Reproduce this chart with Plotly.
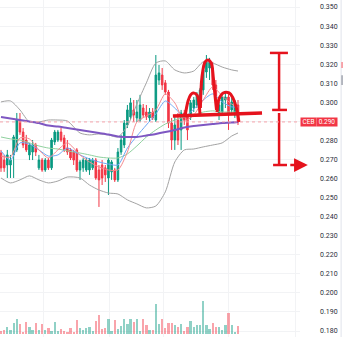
import plotly.graph_objects as go

# ---------------- data ----------------
bars = list(range(76))
opens = [0.2734,0.2697,0.2671,0.2671,0.2724,0.2750,0.2907,0.2844,0.2802,0.2724,
         0.2739,0.2776,0.2656,0.2697,0.2645,0.2697,0.2656,0.2792,0.2802,0.2844,
         0.2813,0.2760,0.2750,0.2739,0.2750,0.2645,0.2656,0.2645,0.2645,0.2656,
         0.2697,0.2645,0.2671,0.2656,0.2603,0.2635,0.2645,0.2593,0.2739,0.2776,
         0.2881,0.2923,0.2960,0.2918,0.2907,0.2970,0.2949,0.2918,0.2949,0.2907,
         0.3117,0.3143,0.3102,0.3054,0.2891,0.2802,0.2907,0.2855,0.2944,0.2923,
         0.2923,0.2970,0.2986,0.3012,0.3065,0.3159,0.3180,0.3180,0.3091,0.2933,
         0.2949,0.3012,0.3028,0.2960,0.2933,0.2986]
highs = [0.2750,0.2724,0.2750,0.2724,0.2829,0.2944,0.2944,0.2865,0.2829,0.2787,
         0.2802,0.2787,0.2724,0.2708,0.2708,0.2708,0.2813,0.2855,0.2855,0.2865,
         0.2829,0.2802,0.2760,0.2750,0.2760,0.2697,0.2708,0.2708,0.2708,0.2708,
         0.2708,0.2671,0.2697,0.2671,0.2708,0.2697,0.2656,0.2760,0.2829,0.2907,
         0.2986,0.3023,0.3012,0.3012,0.3039,0.2991,0.2986,0.2970,0.2970,0.3248,
         0.3196,0.3180,0.3117,0.3065,0.2918,0.2933,0.2944,0.2960,0.2960,0.2933,
         0.3012,0.3028,0.3054,0.3075,0.3196,0.3248,0.3233,0.3212,0.3117,0.3002,
         0.3039,0.3049,0.3049,0.3023,0.3012,0.3012]
lows = [0.2635,0.2635,0.2603,0.2603,0.2603,0.2739,0.2829,0.2760,0.2739,0.2697,
        0.2697,0.2718,0.2645,0.2635,0.2635,0.2645,0.2645,0.2776,0.2792,0.2792,
        0.2739,0.2724,0.2697,0.2671,0.2635,0.2593,0.2635,0.2635,0.2619,0.2645,
        0.2593,0.2451,0.2566,0.2582,0.2514,0.2593,0.2582,0.2582,0.2724,0.2760,
        0.2865,0.2907,0.2897,0.2897,0.2897,0.2918,0.2907,0.2897,0.2907,0.2897,
        0.3091,0.3065,0.3039,0.2865,0.2750,0.2750,0.2776,0.2750,0.2881,0.2802,
        0.2907,0.2949,0.2970,0.2986,0.3039,0.3128,0.3117,0.3065,0.2986,0.2907,
        0.2933,0.2970,0.2855,0.2933,0.2918,0.2881]
closes = [0.2656,0.2656,0.2724,0.2697,0.2818,0.2907,0.2844,0.2776,0.2750,0.2776,
          0.2776,0.2739,0.2697,0.2645,0.2697,0.2656,0.2802,0.2844,0.2844,0.2802,
          0.2750,0.2739,0.2708,0.2697,0.2645,0.2687,0.2697,0.2697,0.2697,0.2697,
          0.2603,0.2593,0.2603,0.2619,0.2697,0.2687,0.2593,0.2739,0.2802,0.2891,
          0.2960,0.2997,0.2933,0.2949,0.2986,0.2933,0.2923,0.2949,0.2918,0.3143,
          0.3154,0.3091,0.3054,0.2891,0.2802,0.2881,0.2802,0.2944,0.2907,0.2855,
          0.2997,0.3012,0.3039,0.3065,0.3170,0.3212,0.3212,0.3091,0.3012,0.2986,
          0.3028,0.3028,0.2944,0.3002,0.3002,0.2897]
volumes_k = [300,400,730,400,1070,1470,1000,200,1200,700,
             400,1100,400,1000,400,600,270,1170,330,530,
             270,230,600,200,1400,600,400,630,670,270,
             1330,1870,470,600,1500,330,1400,470,800,1470,
             1000,1530,1200,1470,330,1470,930,400,400,3000,
             1000,1470,600,1100,1070,930,730,1000,330,670,
             1270,670,930,930,3270,870,470,1070,670,730,
             400,870,2130,930,200,800]

# indicator lines sampled at these bars
knot_bars = [0,3,6,9,12,15,18,21,25,28,31,34,37,40,43,46,49,52,55,58,61,64,67,70,73,75]
bb_upper = [0.3002,0.3007,0.2960,0.2897,0.2897,0.2907,0.2907,0.2902,0.2839,0.2829,
            0.2834,0.2829,0.2818,0.2876,0.2991,0.3102,0.3206,0.3217,0.3170,0.3154,
            0.3164,0.3212,0.3206,0.3185,0.3170,0.3164]
bb_lower = [0.2603,0.2577,0.2593,0.2614,0.2593,0.2577,0.2587,0.2608,0.2603,0.2566,
            0.2540,0.2524,0.2519,0.2488,0.2467,0.2446,0.2456,0.2530,0.2687,0.2750,
            0.2755,0.2766,0.2776,0.2787,0.2823,0.2839]
ma_purple = [0.2923,0.2915,0.2907,0.2899,0.2891,0.2878,0.2873,0.2865,0.2855,0.2847,
             0.2839,0.2831,0.2821,0.2818,0.2818,0.2826,0.2834,0.2844,0.2855,0.2868,
             0.2876,0.2881,0.2886,0.2891,0.2894,0.2897]
ma_green = [0.2818,0.2808,0.2802,0.2787,0.2771,0.2760,0.2755,0.2745,0.2734,0.2724,
            0.2713,0.2708,0.2708,0.2729,0.2771,0.2818,0.2855,0.2886,0.2907,0.2923,
            0.2933,0.2949,0.2955,0.2949,0.2949,0.2949]
ma_blue = [0.2745,0.2697,0.2787,0.2781,0.2750,0.2718,0.2724,0.2760,0.2724,0.2703,
           0.2687,0.2676,0.2671,0.2760,0.2823,0.2881,0.2939,0.3007,0.2970,0.2923,
           0.2965,0.3012,0.3044,0.3002,0.2976,0.2976]
ma_red = [0.2718,0.2713,0.2813,0.2808,0.2750,0.2708,0.2750,0.2787,0.2724,0.2687,
          0.2661,0.2645,0.2645,0.2739,0.2897,0.2928,0.2960,0.3044,0.2997,0.2902,
          0.2933,0.3012,0.3081,0.3033,0.2991,0.2970]

price_ticks = [0.18,0.19,0.20,0.21,0.22,0.23,0.24,0.25,0.26,0.27,0.28,0.29,
               0.30,0.31,0.32,0.33,0.34,0.35]
time_grid_bars = [13.29, 34.18, 51.27, 71.84, 93.35]
symbol = "CEB"

# hand-drawn pattern (bar, price)
ls_bars = [58.2,59.2,60.0,60.8,62.0,62.7,63.0]
ls_prices = [0.2923,0.3007,0.3039,0.3049,0.3039,0.2986,0.2928]
head_bars = [63.1,63.6,64.6,65.5,66.5,67.2,67.7,68.2]
head_prices = [0.2970,0.3133,0.3212,0.3222,0.3206,0.3128,0.3039,0.2960]
rs_bars = [68.4,69.0,70.3,72.2,73.4,74.4,75.3]
rs_prices = [0.2949,0.3018,0.3049,0.3049,0.3023,0.2976,0.2897]
neck_bars = [54.4, 82.6]
neck_prices = [0.2928, 0.2944]
measure_bar = 88.0
measure_top, measure_mid, measure_mid2, measure_bottom = 0.3259, 0.2960, 0.2944, 0.2671

# ---------------- figure ----------------
UP, DOWN = "#089981", "#f23645"
UP_V, DOWN_V = "rgba(8,153,129,0.45)", "rgba(242,54,69,0.45)"
DRAW = "#e5131d"

fig = go.Figure()

vcolors = [UP_V if c >= o else DOWN_V for o, c in zip(opens, closes)]
fig.add_trace(go.Bar(x=bars, y=volumes_k, marker=dict(color=vcolors, line=dict(width=0)),
                     width=0.72, yaxis="y2", hoverinfo="skip"))

fig.add_trace(go.Candlestick(
    x=bars, open=opens, high=highs, low=lows, close=closes,
    increasing=dict(line=dict(color=UP, width=1), fillcolor=UP),
    decreasing=dict(line=dict(color=DOWN, width=1), fillcolor=DOWN),
    whiskerwidth=0, hoverinfo="skip"))

def add_line(y, color, width):
    fig.add_trace(go.Scatter(x=knot_bars, y=y, mode="lines",
                             line=dict(color=color, width=width, shape="spline", smoothing=0.7),
                             hoverinfo="skip"))

add_line(bb_upper, "#a3a3a3", 1)
add_line(bb_lower, "#a3a3a3", 1)
add_line(ma_green, "#8fd19e", 1)
add_line(ma_blue, "#6fa8f5", 1)
add_line(ma_red, "#f58a8f", 1)
add_line(ma_purple, "#7e57c2", 2)

# drawings
for xs, ys in [(ls_bars, ls_prices), (head_bars, head_prices), (rs_bars, rs_prices)]:
    fig.add_trace(go.Scatter(x=xs, y=ys, mode="lines",
                             line=dict(color=DRAW, width=3, shape="spline", smoothing=1.0),
                             hoverinfo="skip"))
fig.add_trace(go.Scatter(x=neck_bars, y=neck_prices, mode="lines",
                         line=dict(color=DRAW, width=3.5), hoverinfo="skip"))
mx = measure_bar
fig.add_trace(go.Scatter(
    x=[mx, mx, None, mx, mx, None, mx-2.9, mx+2.8, None, mx-2.2, mx+2.5, None, mx-1.9, mx+2.5],
    y=[measure_top, measure_mid, None, measure_mid2, measure_bottom, None,
       measure_top, measure_top, None, measure_mid, measure_mid, None, measure_bottom, measure_bottom],
    mode="lines", line=dict(color=DRAW, width=2.5), hoverinfo="skip"))

last_price = closes[-1]
fig.add_shape(type="line", xref="paper", x0=0, x1=1, yref="y", y0=last_price, y1=last_price,
              line=dict(color="#f5a3aa", width=1, dash="dot"))

# arrow
fig.add_annotation(x=1.026, xref="paper", y=measure_bottom, yref="y", ax=-19, ay=0,
                   axref="pixel", ayref="pixel", text="", showarrow=True,
                   arrowhead=2, arrowsize=1.1, arrowwidth=2.5, arrowcolor=DRAW)

# price labels on axis (the last-price badge covers the 0.290 tick label)
fig.add_annotation(x=1.0, xref="paper", xanchor="left", y=last_price, yref="y", text=symbol,
                   showarrow=False, bgcolor="#f23645",
                   font=dict(color="white", size=6.5, family="Roboto"),
                   width=15, height=8, borderpad=0)
fig.add_annotation(x=1.0535, xref="paper", xanchor="left", y=last_price, yref="y",
                   text=f"{last_price:.3f}",
                   showarrow=False, bgcolor="#f23645",
                   font=dict(color="white", size=6.5, family="Roboto"),
                   width=20, height=8, borderpad=0)

tick_text = ["" if abs(v - round(last_price, 3)) < 1e-9 else f"{v:.3f}" for v in price_ticks]

# right panel edge
fig.add_shape(type="line", xref="paper", yref="paper", x0=1.137, x1=1.137, y0=0, y1=1,
              line=dict(color="#e0e3eb", width=1))
fig.add_shape(type="rect", xref="paper", yref="paper", x0=1.137, x1=1.15, y0=0.798, y1=0.816,
              line=dict(width=0), fillcolor="#f7a1a8")
fig.add_shape(type="rect", xref="paper", yref="paper", x0=1.137, x1=1.15, y0=0.748, y1=0.777,
              line=dict(width=0), fillcolor="#b2b5be")

fig.update_layout(
    width=343, height=337, autosize=False,
    margin=dict(l=0, r=43, t=0, b=0),
    paper_bgcolor="white", plot_bgcolor="white",
    showlegend=False,
    xaxis=dict(range=[-0.316, 94.62], tickvals=time_grid_bars, showticklabels=False,
               showgrid=True, gridcolor="#f2f3f5", zeroline=False, showline=False,
               rangeslider=dict(visible=False), fixedrange=True),
    yaxis=dict(side="right", range=[0.17687, 0.35367], tickvals=price_ticks,
               ticktext=tick_text, ticks="",
               ticklabelstandoff=19, showgrid=True, gridcolor="#f2f3f5",
               zeroline=False, showline=False,
               tickfont=dict(size=7, color="#2a2e39", family="Roboto")),
    yaxis2=dict(overlaying="y", range=[-300, 33400], visible=False),
    bargap=0,
)

fig.write_html("out.html")
